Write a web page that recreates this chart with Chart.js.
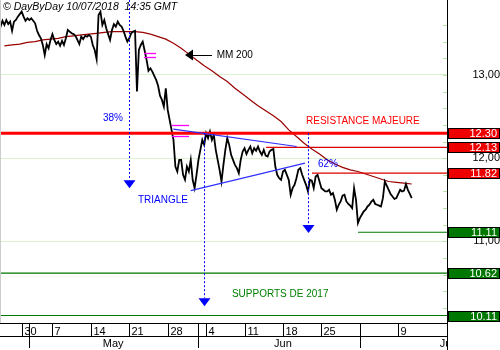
<!DOCTYPE html>
<html>
<head>
<meta charset="utf-8">
<title>DayByDay</title>
<script src="https://cdn.jsdelivr.net/npm/chart.js@4.4.0/dist/chart.umd.min.js"></script>
<style>
  html, body { margin: 0; padding: 0; background: #fff; }
  #wrap { width: 500px; height: 350px; }
</style>
</head>
<body>
<div id="wrap"><canvas id="graphique" width="500" height="350"></canvas></div>
<script>
// Séances affichées
const seances = [
  '2018-04-25', '2018-04-26', '2018-04-27', '2018-04-30', '2018-05-02', '2018-05-03', '2018-05-04',
  '2018-05-07', '2018-05-08', '2018-05-09', '2018-05-10', '2018-05-11',
  '2018-05-14', '2018-05-15', '2018-05-16', '2018-05-17', '2018-05-18',
  '2018-05-21', '2018-05-22', '2018-05-23', '2018-05-24', '2018-05-25',
  '2018-05-28', '2018-05-29', '2018-05-30', '2018-05-31', '2018-06-01',
  '2018-06-04', '2018-06-05', '2018-06-06', '2018-06-07', '2018-06-08',
  '2018-06-11', '2018-06-12', '2018-06-13', '2018-06-14', '2018-06-15',
  '2018-06-18', '2018-06-19', '2018-06-20', '2018-06-21', '2018-06-22',
  '2018-06-25', '2018-06-26', '2018-06-27', '2018-06-28', '2018-06-29',
  '2018-07-02', '2018-07-03', '2018-07-04', '2018-07-05', '2018-07-06',
  '2018-07-09', '2018-07-10'
];

// Cours intraday : 4 relevés par séance
const coursIntraday = [
  [13.61, 13.58, 13.65, 13.60], [13.66, 13.61, 13.64, 13.53], [13.64, 13.66, 13.70, 13.73],
  [13.76, 13.70, 13.65, 13.68], [13.66, 13.68, 13.65, 13.62], [13.53, 13.48, 13.44, 13.36],
  [13.24, 13.37, 13.32, 13.42], [13.49, 13.42, 13.37, 13.40], [13.35, 13.41, 13.36, 13.44],
  [13.54, 13.52, 13.50, 13.49], [13.47, 13.42, 13.37, 13.46], [13.43, 13.47, 13.46, 13.48],
  [13.46, 13.36, 13.30, 13.19], [13.72, 13.76, 13.60, 13.66], [13.56, 13.49, 13.42, 13.54],
  [13.61, 13.58, 13.64, 13.60], [13.58, 13.53, 13.46, 13.40], [13.44, 13.50, 13.52, 13.53],
  [12.80, 13.30, 13.36, 13.40], [13.29, 13.18, 13.05, 13.08], [13.04, 12.99, 12.94, 12.87],
  [12.75, 12.70, 12.62, 12.84], [12.58, 12.46, 12.34, 12.22], [11.90, 11.84, 11.98, 11.98],
  [11.80, 11.74, 11.90, 11.84], [11.98, 11.74, 11.64, 11.80], [11.98, 12.10, 12.22, 12.16],
  [12.30, 12.24, 12.32, 12.22], [12.28, 12.10, 11.98, 11.86], [11.72, 11.92, 12.10, 12.24],
  [12.16, 12.04, 11.98, 11.92], [11.88, 11.82, 11.98, 12.08], [12.12, 12.05, 12.10, 12.14],
  [12.06, 12.12, 12.09, 12.14], [12.08, 12.04, 12.10, 12.03], [12.02, 12.08, 12.10, 12.11],
  [11.90, 11.80, 11.76, 11.74], [11.84, 11.86, 11.80, 11.74], [11.56, 11.64, 11.68, 11.76],
  [11.86, 11.88, 11.80, 11.74], [11.68, 11.60, 11.74, 11.73], [11.64, 11.78, 11.80, 11.72],
  [11.64, 11.62, 11.60, 11.60], [11.62, 11.56, 11.58, 11.50], [11.38, 11.44, 11.48, 11.55],
  [11.56, 11.48, 11.45, 11.43], [11.40, 11.64, 11.50, 11.22], [11.28, 11.32, 11.36, 11.38],
  [11.42, 11.44, 11.48, 11.50], [11.45, 11.44, 11.43, 11.42], [11.52, 11.72, 11.67, 11.62],
  [11.57, 11.54, 11.51, 11.52], [11.57, 11.62, 11.60, 11.61], [11.69, 11.62, 11.57, 11.52]
];

// Moyenne mobile 200 jours (valeur de clôture)
const mm200 = [
  13.35, 13.36, 13.37, 13.39, 13.40, 13.42, 13.43, 13.44, 13.46, 13.47,
  13.48, 13.49, 13.50, 13.51, 13.52, 13.52, 13.52, 13.52, 13.51, 13.49,
  13.46, 13.43, 13.38, 13.32, 13.25, 13.18, 13.11, 13.05, 12.98, 12.92,
  12.84, 12.77, 12.70, 12.63, 12.57, 12.51, 12.44, 12.34, 12.26, 12.18,
  12.11, 12.05, 11.98, 11.93, 11.89, 11.86, 11.84, 11.81, 11.78, 11.75,
  11.72, 11.71, 11.70, 11.69
];

// Niveaux (résistances / supports) et séance de départ du trait
const niveaux = [12.30, 12.13, 11.82, 11.11, 10.62, 10.11];
const niveauxDebut = [null, 34.8, 40.77, 46.76, null, null];
const niveauxSens = ['R', 'R', 'R', 'S', 'S', 'S'];

// Objectifs (retracements) : séance, départ, cible
const objectifsSeance = [16.95, 26.76, 40.29];
const objectifsDepart = [13.90, 12.30, 12.30];
const objectifsCible = [11.64, 10.22, 11.10];

// Bornes du triangle [séance, cours]
const triangleHaut = [[22.73, 12.35], [38.78, 12.14]];
const triangleBas = [[24.99, 11.61], [39.86, 11.94]];

// Gaps : début, fin, borne haute, borne basse
const gapsDebut = [18.91, 22.52];
const gapsFin = [20.47, 24.77];
const gapsHaut = [13.26, 12.40];
const gapsBas = [13.22, 12.27];

// Commentaires [texte, séance, cours]
const commentaires = [
  ['38%', 13.58, 12.48],
  ['62%', 41.55, 11.93],
  ['TRIANGLE', 18.13, 11.50],
  ['RESISTANCE MAJEURE', 40.0, 12.44],
  ['SUPPORTS DE 2017', 30.36, 10.36],
  ['MM 200', 28.37, 13.24]
];
// flèche MM 200 : pointe, fin de trait
const flecheMM = [24.25, 27.76, 13.24];

// Echelle des mois
const moisNoms = ['May', 'Jun', 'Jul'];
const moisCentre = [14.9, 37.0, 58.3];

const titre = '\u00A9 DayByDay 10/07/2018  14:35 GMT';

const POLICE = "Arial, 'Liberation Sans', sans-serif";
const couleursTexte = { '38%': '#0000ff', '62%': '#0000ff', 'TRIANGLE': '#0000ff',
  'RESISTANCE MAJEURE': '#ff0000', 'SUPPORTS DE 2017': '#008000', 'MM 200': '#000000' };

const coursPoints = [];
coursIntraday.forEach((jour, s) => jour.forEach((v, k) => coursPoints.push({ x: s + k / 4, y: v })));
const mmPoints = mm200.map((v, s) => ({ x: s + 0.75, y: v }));

const estEntier = v => Math.abs(v - Math.round(v)) < 1e-6;
const estPas = v => Math.abs(v * 5 - Math.round(v * 5)) < 1e-6;

const habillage = {
  id: 'habillage',
  afterDatasetsDraw(chart) {
    const { ctx, chartArea: a, scales: { x, y } } = chart;
    const px = v => x.getPixelForValue(v);
    const py = v => y.getPixelForValue(v);
    ctx.save();
    ctx.beginPath();
    ctx.rect(a.left, a.top, a.right - a.left, a.bottom - a.top);
    ctx.clip();

    // niveaux horizontaux
    niveaux.forEach((v, i) => {
      ctx.beginPath();
      ctx.strokeStyle = niveauxSens[i] === 'R' ? (i === 0 ? '#ff0000' : '#dd0000') : '#007700';
      ctx.lineWidth = i === 0 ? 3 : 1.2;
      const x0 = niveauxDebut[i] === null ? a.left : px(niveauxDebut[i]);
      ctx.moveTo(x0, py(v));
      ctx.lineTo(a.right, py(v));
      ctx.stroke();
    });

    // triangle
    ctx.strokeStyle = '#3030ff';
    ctx.lineWidth = 1.2;
    [triangleHaut, triangleBas].forEach(b => {
      ctx.beginPath();
      ctx.moveTo(px(b[0][0]), py(b[0][1]));
      ctx.lineTo(px(b[1][0]), py(b[1][1]));
      ctx.stroke();
    });

    // gaps
    ctx.strokeStyle = '#ff00ff';
    ctx.lineWidth = 1.3;
    gapsDebut.forEach((d, i) => {
      [gapsHaut[i], gapsBas[i]].forEach(v => {
        ctx.beginPath();
        ctx.moveTo(px(d), Math.round(py(v)) + 0.5);
        ctx.lineTo(px(gapsFin[i]), Math.round(py(v)) + 0.5);
        ctx.stroke();
      });
    });

    // objectifs en pointillés
    objectifsSeance.forEach((s, i) => {
      const xs = Math.round(px(s)) + 0.5;
      const pointe = py(objectifsCible[i]);
      ctx.beginPath();
      ctx.setLineDash([2, 2]);
      ctx.strokeStyle = '#0000ff';
      ctx.lineWidth = 1;
      ctx.moveTo(xs, py(objectifsDepart[i]));
      ctx.lineTo(xs, pointe - 8);
      ctx.stroke();
      ctx.setLineDash([]);
      ctx.beginPath();
      ctx.fillStyle = '#0000ff';
      ctx.moveTo(xs - 6, pointe - 8);
      ctx.lineTo(xs + 6, pointe - 8);
      ctx.lineTo(xs, pointe);
      ctx.closePath();
      ctx.fill();
    });

    // flèche MM 200
    const yf = py(flecheMM[2]);
    ctx.beginPath();
    ctx.fillStyle = '#000';
    ctx.moveTo(px(flecheMM[0]), yf);
    ctx.lineTo(px(flecheMM[0]) + 8, yf - 5.5);
    ctx.lineTo(px(flecheMM[0]) + 8, yf + 5.5);
    ctx.closePath();
    ctx.fill();
    ctx.beginPath();
    ctx.strokeStyle = '#000';
    ctx.lineWidth = 1;
    ctx.moveTo(px(flecheMM[0]) + 8, Math.round(yf) + 0.5);
    ctx.lineTo(px(flecheMM[1]), Math.round(yf) + 0.5);
    ctx.stroke();

    // commentaires
    ctx.textBaseline = 'middle';
    ctx.textAlign = 'left';
    ctx.font = '10px ' + POLICE;
    commentaires.forEach(([t, s, v]) => {
      ctx.fillStyle = couleursTexte[t];
      ctx.fillText(t, px(s), py(v));
    });

    // bord gauche
    ctx.beginPath();
    ctx.strokeStyle = '#cccccc';
    ctx.moveTo(a.left + 0.5, a.top);
    ctx.lineTo(a.left + 0.5, a.bottom);
    ctx.stroke();
    ctx.restore();
  },
  afterDraw(chart) {
    const { ctx, chartArea: a, scales: { x, y } } = chart;
    const px = v => x.getPixelForValue(v);
    const py = v => y.getPixelForValue(v);
    const xAxe = Math.round(a.right) + 0.5;
    ctx.save();

    // petites graduations de l'axe des cours
    ctx.strokeStyle = '#b8e4a8';
    ctx.lineWidth = 1;
    y.ticks.forEach(t => {
      if (!estPas(t.value)) return;
      const yy = Math.round(py(t.value)) + 0.5;
      ctx.beginPath();
      ctx.moveTo(a.right - 4, yy);
      ctx.lineTo(a.right, yy);
      ctx.stroke();
    });

    // étiquettes des niveaux
    ctx.font = '11px ' + POLICE;
    ctx.textAlign = 'right';
    ctx.textBaseline = 'middle';
    niveaux.forEach((v, i) => {
      const yy = Math.round(py(v));
      ctx.fillStyle = niveauxSens[i] === 'R' ? '#ee0000' : '#007700';
      ctx.fillRect(a.right + 1, yy - 5, 51, 10);
      ctx.strokeStyle = '#000';
      ctx.strokeRect(a.right + 1.5, yy - 4.5, 51, 10);
      ctx.fillStyle = '#fff';
      ctx.fillText(v.toFixed(2), 497, yy + 0.5);
    });

    // échelle des dates
    const haut = a.bottom;
    ctx.strokeStyle = '#000';
    ctx.lineWidth = 1;
    ctx.beginPath();
    ctx.moveTo(a.left, haut + 13.5);
    ctx.lineTo(a.right, haut + 13.5);
    ctx.moveTo(xAxe, a.bottom);
    ctx.lineTo(xAxe, 350);
    ctx.stroke();

    ctx.font = '11px ' + POLICE;
    ctx.fillStyle = '#000';
    ctx.textAlign = 'left';
    ctx.textBaseline = 'alphabetic';
    seances.forEach((d, s) => {
      const date = new Date(d + 'T00:00:00Z');
      const debutMois = s > 0 && seances[s - 1].slice(5, 7) !== d.slice(5, 7);
      const lundi = date.getUTCDay() === 1;
      const xs = Math.round(px(s)) + 0.5;
      if (xs < a.left || xs > a.right) return;
      if (lundi && !debutMois) {
        ctx.beginPath();
        ctx.moveTo(xs, haut);
        ctx.lineTo(xs, haut + 13);
        ctx.stroke();
        ctx.fillText(String(date.getUTCDate()), xs + 2, haut + 11.5);
      }
      if (debutMois) {
        ctx.beginPath();
        ctx.moveTo(xs, haut);
        ctx.lineTo(xs, 348);
        ctx.stroke();
      }
    });

    ctx.save();
    ctx.beginPath();
    ctx.rect(a.left, haut + 14, a.right - a.left, 350 - haut - 14);
    ctx.clip();
    ctx.textAlign = 'center';
    moisNoms.forEach((m, i) => ctx.fillText(m, px(moisCentre[i]), 347));
    ctx.restore();

    // titre
    ctx.font = 'italic 10.5px ' + POLICE;
    ctx.textAlign = 'left';
    ctx.textBaseline = 'middle';
    ctx.fillStyle = '#000';
    ctx.fillText(titre, 3, 7);
    ctx.restore();
  }
};

new Chart(document.getElementById('graphique'), {
  type: 'line',
  data: {
    datasets: [
      { label: 'MM 200', data: mmPoints, borderColor: '#990000', borderWidth: 1.2,
        pointRadius: 0, tension: 0, order: 2 },
      { label: 'Cours', data: coursPoints, borderColor: '#000000', borderWidth: 1.8,
        pointRadius: 0, tension: 0, order: 1 }
    ]
  },
  options: {
    responsive: false,
    animation: false,
    devicePixelRatio: 1,
    layout: { padding: 0 },
    plugins: { legend: { display: false }, tooltip: { enabled: false } },
    scales: {
      x: {
        type: 'linear',
        min: 0.18,
        max: 58.34,
        ticks: { display: false },
        grid: { display: false, drawTicks: false },
        border: { display: true, color: '#000', width: 1 },
        afterFit: s => { s.height = 27; }
      },
      y: {
        position: 'right',
        min: 10.02,
        max: 13.90,
        ticks: {
          stepSize: 0.2,
          autoSkip: false,
          padding: 21,
          crossAlign: 'far',
          color: '#000',
          font: { family: POLICE, size: 11 },
          callback: v => estEntier(v) ? v.toFixed(2).replace('.', ',') : ''
        },
        grid: {
          drawTicks: false,
          color: c => (c.tick && estEntier(c.tick.value)) ? '#d9f2cf' : 'rgba(0,0,0,0)'
        },
        border: { display: true, color: '#000', width: 1 },
        afterFit: s => { s.width = 53; s.paddingTop = 0; s.paddingBottom = 0; }
      }
    }
  },
  plugins: [habillage]
});
</script>
</body>
</html>
